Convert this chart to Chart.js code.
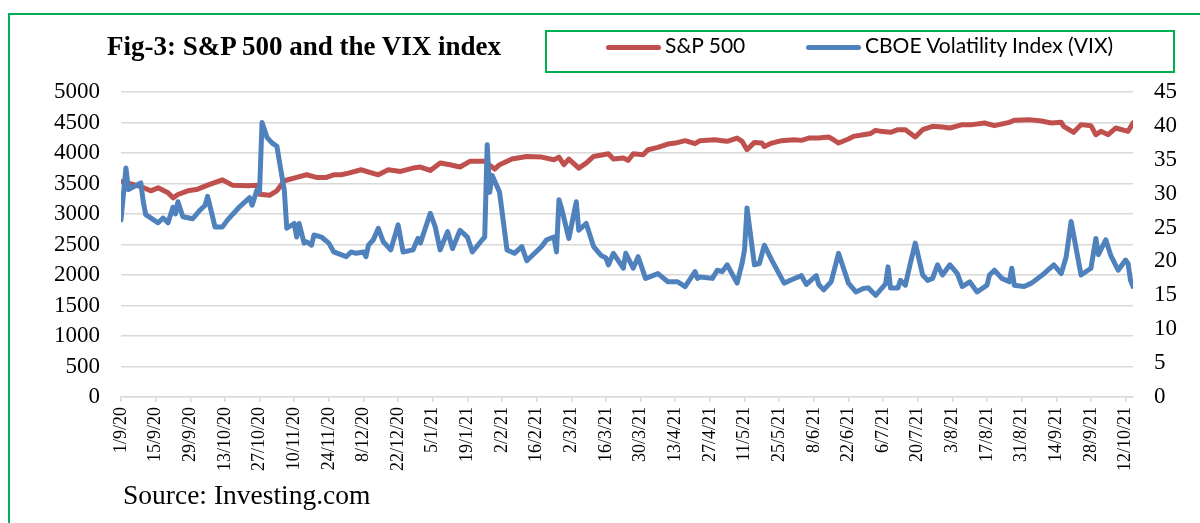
<!DOCTYPE html>
<html>
    <head>
        <title>Fig-3: S&P 500 and the VIX index</title>
        <meta charset="UTF-8">
        <script src="https://cdn.jsdelivr.net/npm/chart.js@4.4.1/dist/chart.umd.min.js"></script>
        <style>
            body { margin: 0; width: 1200px; height: 523px; overflow: hidden; background: #fff; position: relative; }
            #frame { position: absolute; left: 8px; top: 13px; width: 1300px; height: 700px; border-left: 2px solid #00b050; border-top: 2px solid #00b050; }
            #chart { position: absolute; left: 0; top: 0; }
            #title { position: absolute; left: 107px; top: 31px; font: bold 27px 'Liberation Serif', serif; color: #000; white-space: nowrap; }
            #legend { position: absolute; left: 545px; top: 30px; width: 626px; height: 39px; border: 2px solid #00b050; box-sizing: content-box; }
            .item { position: absolute; top: 0; height: 39px; line-height: 39px; font: 21px Lato, sans-serif; color: #000; white-space: nowrap; }
            .item span { display: inline-block; width: 55px; height: 5px; border-radius: 3px; vertical-align: middle; margin-right: 4px; }
            #source { position: absolute; left: 123px; top: 479px; font: 27.5px 'Liberation Serif', serif; color: #000; white-space: nowrap; }
        </style>
    </head>
    <body>
        <div id="frame"></div>
        <canvas id="chart" width="1200" height="523"></canvas>
        <div id="title">Fig-3: S&amp;P 500 and the VIX index</div>
        <div id="legend">
            <div class="item" style="left: 59px;"><span style="background:#c0504d"></span>S&amp;P 500</div>
            <div class="item" style="left: 259px;"><span style="background:#4f81bd"></span>CBOE Volatility Index (VIX)</div>
        </div>
        <div id="source">Source: Investing.com</div>

        <script>
            // days counted from 1/9/20, one label every 14 days
            var tickLabels = ['1/9/20', '15/9/20', '29/9/20', '13/10/20', '27/10/20', '10/11/20', '24/11/20',
                '8/12/20', '22/12/20', '5/1/21', '19/1/21', '2/2/21', '16/2/21', '2/3/21', '16/3/21', '30/3/21',
                '13/4/21', '27/4/21', '11/5/21', '25/5/21', '8/6/21', '22/6/21', '6/7/21', '20/7/21', '3/8/21',
                '17/8/21', '31/8/21', '14/9/21', '28/9/21', '12/10/21'];

            // S&P 500 (left axis)
            var spxDays = [0, 8, 12, 15, 19, 21, 23, 27, 31, 35, 41, 45, 51, 55, 56, 60, 63, 66, 71, 75, 79, 83, 86,
                89, 92, 97, 104, 108, 113, 118, 121, 125, 129, 133, 137, 141, 147, 151, 153, 158, 164, 170, 175, 177,
                179, 181, 185, 188, 191, 197, 199, 203, 205, 207, 211, 213, 217, 221, 224, 228, 232, 234, 240, 243,
                245, 249, 251, 253, 256, 259, 260, 263, 267, 272, 275, 278, 282, 286, 288, 290, 294, 296, 300, 303,
                305, 307, 311, 314, 317, 321, 324, 328, 332, 335, 340, 344, 349, 353, 359, 361, 367, 372, 376, 380,
                381, 385, 388, 392, 394, 396, 399, 402, 407, 409];
            var spxValues = [3533, 3451, 3380, 3429, 3347, 3265, 3320, 3380, 3407, 3473, 3560, 3473, 3462, 3473, 3322,
                3306, 3380, 3545, 3600, 3643, 3600, 3600, 3643, 3643, 3671, 3725, 3643, 3725, 3698, 3753, 3770, 3715,
                3835, 3808, 3770, 3863, 3863, 3737, 3808, 3901, 3944, 3933, 3890, 3933, 3808, 3901, 3753, 3835, 3944,
                3988, 3901, 3917, 3879, 3988, 3971, 4054, 4092, 4147, 4163, 4202, 4152, 4202, 4218, 4202, 4191, 4245,
                4191, 4054, 4174, 4163, 4108, 4163, 4202, 4218, 4207, 4245, 4245, 4262, 4218, 4163, 4229, 4273, 4300,
                4320, 4371, 4355, 4339, 4382, 4382, 4262, 4382, 4437, 4426, 4410, 4465, 4465, 4492, 4448, 4503, 4536,
                4547, 4525, 4492, 4503, 4437, 4339, 4465, 4448, 4300, 4355, 4300, 4410, 4355, 4492];

            // VIX (right axis)
            var vixDays = [0, 2, 3, 8, 9, 10, 15, 17, 19, 21, 22, 23, 25, 29, 32, 34, 35, 38, 41, 43, 48, 52, 53, 55,
                56, 57, 59, 61, 63, 64, 66, 67, 70, 71, 72, 74, 75, 77, 78, 81, 84, 86, 91, 93, 95, 98, 99, 100, 102,
                104, 106, 109, 112, 114, 118, 120, 121, 125, 127, 129, 132, 134, 137, 140, 142, 146, 147, 148, 149,
                150, 153, 156, 159, 162, 164, 170, 172, 175, 176, 177, 178, 181, 184, 185, 188, 191, 194, 196, 197,
                199, 203, 204, 207, 209, 212, 217, 221, 225, 228, 232, 233, 234, 239, 241, 243, 245, 249, 251, 252,
                253, 256, 258, 260, 263, 268, 271, 275, 277, 281, 282, 284, 287, 290, 294, 297, 300, 302, 305, 309,
                310, 311, 314, 315, 317, 319, 321, 324, 326, 328, 330, 332, 335, 338, 340, 343, 346, 350, 351, 353,
                356, 359, 360, 361, 365, 368, 373, 377, 380, 382, 384, 388, 392, 394, 395, 398, 400, 403, 406, 407,
                408, 409];
            var vixValues = [26.1, 33.8, 30.6, 31.6, 28.8, 26.9, 25.7, 26.4, 25.7, 28.0, 27.0, 28.8, 26.6, 26.3, 27.6,
                28.3, 29.6, 25.1, 25.1, 26.1, 28.1, 29.4, 28.3, 30.6, 30.3, 40.5, 38.3, 37.5, 37.0, 34.8, 30.5, 24.9,
                25.6, 23.6, 25.6, 22.7, 22.9, 22.4, 23.9, 23.6, 22.7, 21.4, 20.7, 21.4, 21.2, 21.4, 20.7, 22.4, 23.2,
                24.9, 22.9, 21.7, 25.4, 21.4, 21.7, 23.4, 22.7, 27.1, 25.1, 21.7, 24.4, 21.9, 24.6, 23.6, 21.4, 23.2,
                23.6, 37.2, 30.2, 32.7, 30.2, 21.7, 21.2, 22.2, 20.1, 22.2, 23.2, 23.6, 21.4, 29.1, 27.9, 23.4, 28.8,
                24.6, 25.6, 22.2, 20.9, 20.5, 19.5, 21.2, 19.0, 21.2, 19.0, 20.7, 17.5, 18.2, 17.0, 17.0, 16.3, 18.5,
                17.5, 17.7, 17.5, 18.7, 18.5, 19.5, 16.8, 19.7, 21.7, 27.9, 19.5, 19.7, 22.4, 20.2, 16.8, 17.3, 17.9,
                16.6, 17.9, 16.6, 15.8, 17.0, 21.2, 16.8, 15.5, 16.0, 16.1, 15.0, 16.7, 19.2, 16.1, 16.1, 17.2, 16.5,
                19.7, 22.7, 18.0, 17.2, 17.5, 19.5, 18.0, 19.5, 18.2, 16.3, 17.0, 15.5, 16.5, 18.0, 18.7, 17.5, 17.0,
                19.0, 16.5, 16.3, 16.8, 18.2, 19.5, 18.2, 20.7, 25.9, 18.0, 19.0, 23.4, 21.0, 23.2, 20.9, 18.7, 20.2,
                19.7, 17.2, 16.3];

            function toPoints(days, values)
            {
                var pts = [];
                for (var i = 0; i < days.length; i++) {
                    pts.push({x: days[i], y: values[i]});
                }
                return pts;
            }

            function plainNumber(value)
            {
                return String(value);
            }

            Chart.defaults.font.family = "'Liberation Serif', serif";
            Chart.defaults.color = '#000';

            var myChart = new Chart(document.getElementById('chart'), {
                type: 'line',
                data: {
                    datasets: [{
                            label: 'S&P 500',
                            data: toPoints(spxDays, spxValues),
                            borderColor: '#c0504d',
                            borderWidth: 5,
                            yAxisID: 'y',
                            order: 1
                        }, {
                            label: 'CBOE Volatility Index (VIX)',
                            data: toPoints(vixDays, vixValues),
                            borderColor: '#4f81bd',
                            borderWidth: 5,
                            yAxisID: 'y1',
                            order: 0
                        }]
                },
                options: {
                    responsive: false,
                    animation: false,
                    elements: {
                        point: {radius: 0},
                        line: {tension: 0, borderJoinStyle: 'round', borderCapStyle: 'round'}
                    },
                    layout: {padding: {top: 92, left: 0, right: 0, bottom: 0}},
                    plugins: {legend: {display: false}, tooltip: {enabled: false}},
                    scales: {
                        x: {
                            type: 'linear',
                            min: 0,
                            max: 409,
                            afterFit: function (scale) { scale.height = 126; },
                            grid: {drawOnChartArea: false, color: '#d9d9d9', lineWidth: 1.5, tickLength: 5},
                            border: {color: '#d9d9d9', width: 1.5},
                            ticks: {
                                stepSize: 14,
                                includeBounds: false,
                                autoSkip: false,
                                minRotation: 90,
                                maxRotation: 90,
                                padding: 5,
                                font: {size: 18},
                                callback: function (value) { return tickLabels[value / 14]; }
                            }
                        },
                        y: {
                            position: 'left',
                            min: 0,
                            max: 5000,
                            afterFit: function (scale) { scale.width = 121; },
                            grid: {color: '#d9d9d9', lineWidth: 1.5, drawTicks: false},
                            border: {display: false},
                            ticks: {stepSize: 500, autoSkip: false, padding: 21, font: {size: 23}, callback: plainNumber}
                        },
                        y1: {
                            position: 'right',
                            min: 0,
                            max: 45,
                            afterFit: function (scale) { scale.width = 67; },
                            grid: {display: false, drawTicks: false},
                            border: {display: false},
                            ticks: {stepSize: 5, autoSkip: false, padding: 21, font: {size: 23}, callback: plainNumber}
                        }
                    }
                }
            });
        </script>
    </body>
</html>
